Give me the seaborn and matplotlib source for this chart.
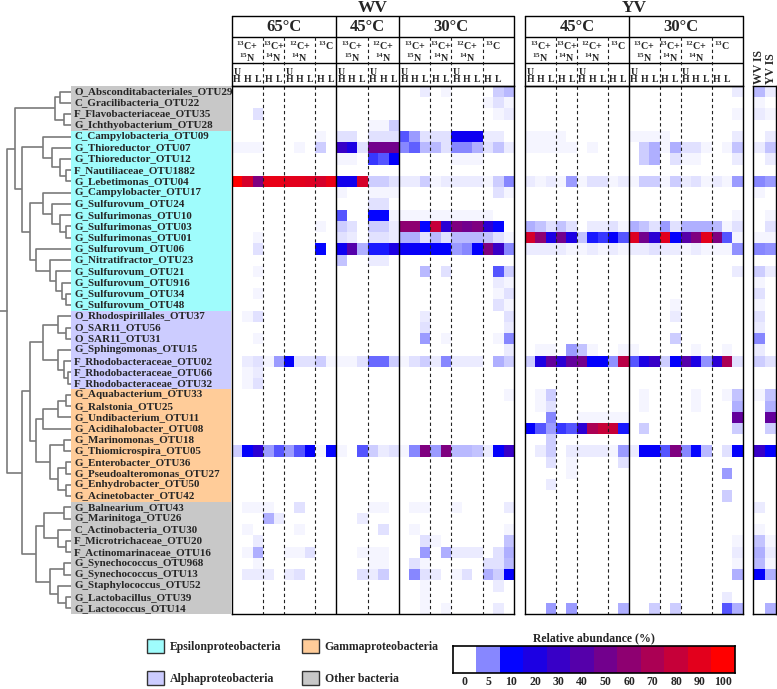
import numpy as np
import pandas as pd
import matplotlib
matplotlib.use('Agg')
import matplotlib.pyplot as plt
from matplotlib.colors import LinearSegmentedColormap
from matplotlib.patches import Patch
import seaborn as sns

sns.set_theme(style='white')
plt.rcParams['font.family'] = ['Liberation Serif', 'DejaVu Serif']
plt.rcParams['font.weight'] = 'bold'
plt.rcParams['mathtext.fontset'] = 'custom'
plt.rcParams['mathtext.rm'] = 'Liberation Serif:bold'
plt.rcParams['mathtext.it'] = 'Liberation Serif:bold'
plt.rcParams['mathtext.bf'] = 'Liberation Serif:bold'

# ---------------- data ----------------
otus = ['O_Absconditabacteriales_OTU29', 'C_Gracilibacteria_OTU22', 'F_Flavobacteriaceae_OTU35',
        'G_Ichthyobacterium_OTU28', 'C_Campylobacteria_OTU09', 'G_Thioreductor_OTU07',
        'G_Thioreductor_OTU12', 'F_Nautiliaceae_OTU1882', 'G_Lebetimonas_OTU04',
        'G_Campylobacter_OTU17', 'G_Sulfurovum_OTU24', 'G_Sulfurimonas_OTU10',
        'G_Sulfurimonas_OTU03', 'G_Sulfurimonas_OTU01', 'G_Sulfurovum_OTU06',
        'G_Nitratifractor_OTU23', 'G_Sulfurovum_OTU21', 'G_Sulfurovum_OTU916',
        'G_Sulfurovum_OTU34', 'G_Sulfurovum_OTU48', 'O_Rhodospirillales_OTU37',
        'O_SAR11_OTU56', 'O_SAR11_OTU31', 'G_Sphingomonas_OTU15',
        'F_Rhodobacteraceae_OTU02', 'F_Rhodobacteraceae_OTU66', 'F_Rhodobacteraceae_OTU32',
        'G_Aquabacterium_OTU33', 'G_Ralstonia_OTU25', 'G_Undibacterium_OTU11',
        'G_Acidihalobacter_OTU08', 'G_Marinomonas_OTU18', 'G_Thiomicrospira_OTU05',
        'G_Enterobacter_OTU36', 'G_Pseudoalteromonas_OTU27', 'G_Enhydrobacter_OTU50',
        'G_Acinetobacter_OTU42', 'G_Balnearium_OTU43', 'G_Marinitoga_OTU26',
        'C_Actinobacteria_OTU30', 'F_Microtrichaceae_OTU20', 'F_Actinomarinaceae_OTU16',
        'G_Synechococcus_OTU968', 'G_Synechococcus_OTU13', 'G_Staphylococcus_OTU52',
        'G_Lactobacillus_OTU39', 'G_Lactococcus_OTU14']
otu_groups = ['Other bacteria'] * 4 + ['Epsilonproteobacteria'] * 16 + \
             ['Alphaproteobacteria'] * 7 + ['Gammaproteobacteria'] * 10 + ['Other bacteria'] * 10
group_colors = {'Epsilonproteobacteria': '#9ffcfc', 'Gammaproteobacteria': '#ffcc99',
                'Alphaproteobacteria': '#ccccff', 'Other bacteria': '#c8c8c8'}
legend_order = ['Epsilonproteobacteria', 'Alphaproteobacteria', 'Gammaproteobacteria', 'Other bacteria']

treat_full = ['13C+15N', '13C+14N', '12C+14N', '13C']
treat_wv45 = ['13C+15N', '12C+14N']
fractions = {'13C+15N': ['UH', 'H', 'L'], '13C+14N': ['H', 'L'],
             '12C+14N': ['UH', 'H', 'L'], '13C': ['H', 'L']}
design = {'WV': [('65°C', treat_full), ('45°C', treat_wv45), ('30°C', treat_full)],
          'YV': [('45°C', treat_full), ('30°C', treat_full)]}
is_samples = ['WV IS', 'YV IS']
iso_text = {'13C+15N': r'$^{13}$C+' + '\n' + r'$^{15}$N',
            '13C+14N': r'$^{13}$C+' + '\n' + r'$^{14}$N',
            '12C+14N': r'$^{12}$C+' + '\n' + r'$^{14}$N',
            '13C': r'$^{13}$C'}

# relative abundance (%), column index -> value, zero elsewhere
# columns: 0-25 WV (65/45/30), 26-45 YV (45/30), 46 WV IS, 47 YV IS
nonzero_cells = [
    {18: 1, 20: 0.6, 25: 2, 46: 3, 47: 1},
    {24: 0.5, 25: 1.5, 46: 0.4},
    {2: 1.5, 25: 0.7, 46: 1, 47: 0.5},
    {12: 0.3, 13: 0.5, 14: 0.5, 15: 2, 46: 0.3},
    {0: 0.3, 1: 0.3, 2: 0.3, 3: 0.3, 4: 0.3, 5: 0.3, 6: 0.3, 7: 0.3, 8: 0.5, 9: 0.3, 10: 1.5, 11: 1.5,
     12: 0.3, 13: 1.2, 14: 1.2, 15: 1.2, 16: 7, 17: 4, 18: 1.5, 19: 1.5, 20: 1.5, 21: 15, 22: 15,
     23: 15, 24: 0.8, 25: 0.8, 26: 0.5, 27: 0.5, 28: 0.5, 29: 0.5, 32: 0.3, 36: 0.5, 37: 0.5,
     38: 0.5, 39: 0.5, 47: 1},
    {0: 0.4, 1: 0.4, 2: 0.5, 3: 0.3, 4: 0.3, 5: 0.3, 6: 0.4, 7: 0.3, 8: 2, 9: 0.3, 10: 30, 11: 20,
     12: 1.5, 13: 50, 14: 50, 15: 50, 16: 5, 17: 6.5, 18: 3, 19: 3, 20: 1.5, 21: 5, 22: 5, 23: 3.5,
     24: 1.5, 25: 2.5, 26: 0.7, 27: 0.5, 28: 0.5, 29: 0.5, 30: 0.5, 32: 0.5, 36: 0.3, 37: 2,
     38: 3.5, 39: 0.5, 40: 3.5, 41: 1.5, 42: 1.5, 43: 0.5, 45: 0.7, 46: 0.8, 47: 2.5},
    {10: 0.5, 11: 0.5, 13: 8, 14: 7, 15: 11, 16: 0.3, 17: 0.3, 21: 0.5, 22: 0.5, 23: 0.5, 37: 2,
     38: 3.5, 40: 1.5, 41: 0.5, 42: 0.5, 47: 1},
    {8: 0.3, 10: 0.3, 11: 0.3, 46: 0.3},
    {0: 100, 1: 85, 2: 55, 3: 92, 4: 92, 5: 90, 6: 90, 7: 88, 8: 85, 9: 92, 10: 17, 11: 17, 12: 85,
     13: 2, 14: 2, 15: 1.5, 16: 0.8, 17: 0.8, 18: 2, 19: 0.5, 20: 1, 21: 1, 22: 1, 23: 1, 24: 0.5,
     25: 2, 26: 1, 27: 0.5, 28: 0.8, 29: 0.5, 30: 4, 31: 0.5, 32: 1.5, 33: 1.5, 34: 0.5, 35: 1,
     36: 0.5, 37: 2, 38: 2, 39: 0.5, 40: 2, 41: 1, 42: 1.5, 43: 0.5, 44: 1, 45: 0.5, 46: 5, 47: 4},
    {10: 0.5, 13: 0.5, 14: 0.5, 15: 0.5, 25: 1.5, 46: 0.5},
    {13: 1.5, 14: 1.5, 46: 0.3},
    {10: 7, 13: 10, 14: 10, 15: 0.5, 16: 0.5, 17: 0.5, 18: 0.5, 19: 0.5, 20: 0.5, 21: 0.5, 22: 0.5,
     23: 0.5, 24: 0.5, 26: 0.3, 27: 0.3, 28: 0.3, 47: 0.5},
    {0: 0.3, 1: 0.3, 2: 0.3, 3: 0.3, 4: 0.3, 5: 0.3, 6: 0.3, 7: 0.3, 8: 0.5, 10: 2, 11: 1.5, 13: 2,
     14: 2, 15: 1, 16: 60, 17: 60, 18: 10, 19: 80, 20: 25, 21: 55, 22: 50, 23: 55, 24: 25, 25: 10,
     26: 3.5, 27: 2.5, 28: 1.5, 29: 2.5, 30: 1.5, 31: 0.3, 32: 1, 33: 1, 34: 1.5, 35: 0.5, 36: 3.5,
     37: 2.5, 38: 1.5, 39: 4, 40: 1.5, 41: 3.5, 42: 3.5, 43: 3.5, 44: 3, 45: 0.7, 47: 1.5},
    {0: 0.3, 1: 0.3, 2: 0.5, 3: 0.3, 4: 0.3, 5: 0.3, 6: 0.3, 7: 0.3, 8: 0.3, 9: 0.3, 10: 1.5, 11: 1,
     13: 1.5, 14: 1.5, 15: 1, 16: 3.5, 17: 3.5, 18: 1.5, 19: 3, 20: 1.5, 21: 3, 22: 3, 23: 3,
     24: 2.5, 25: 1.5, 26: 85, 27: 60, 28: 20, 29: 50, 30: 20, 31: 2.5, 32: 9, 33: 8, 34: 12,
     35: 7, 36: 88, 37: 50, 38: 25, 39: 90, 40: 11, 41: 40, 42: 55, 43: 90, 44: 55, 45: 7,
     46: 0.5, 47: 0.5},
    {0: 0.3, 1: 0.3, 2: 1.5, 3: 0.3, 4: 0.3, 5: 0.3, 6: 0.3, 7: 0.3, 8: 10, 9: 0.3, 10: 15, 11: 40,
     12: 3.5, 13: 9, 14: 9, 15: 20, 16: 14, 17: 13, 18: 12, 19: 11, 20: 11, 21: 4, 22: 5, 23: 11,
     24: 55, 25: 30, 26: 1, 27: 0.8, 28: 0.8, 29: 1, 30: 0.6, 31: 0.5, 32: 0.8, 33: 0.6, 34: 0.8,
     35: 0.6, 36: 0.8, 37: 0.8, 38: 1.5, 39: 1, 40: 0.8, 41: 0.6, 42: 0.8, 43: 0.6, 44: 0.5,
     45: 0.6, 46: 5, 47: 4.5},
    {10: 2.5, 13: 1, 14: 1, 46: 0.3, 47: 0.3},
    {2: 0.5, 18: 3, 20: 1.5, 25: 7, 46: 2, 47: 0.8},
    {25: 1, 38: 0.3, 46: 0.5},
    {2: 0.5, 25: 0.5, 38: 0.3, 40: 0.3, 46: 1.5, 47: 0.3},
    {25: 1.5, 40: 0.5, 46: 0.5},
    {1: 0.5, 2: 1.5, 18: 1, 40: 1, 46: 1.5},
    {18: 1.5, 38: 0.3, 46: 0.8},
    {2: 0.5, 18: 4, 20: 0.5, 25: 0.5, 40: 2, 46: 5},
    {2: 0.3, 18: 0.3, 26: 0.3, 27: 0.5, 28: 0.5, 30: 4, 31: 2.5, 32: 0.5, 35: 0.5, 36: 0.5,
     37: 0.3, 42: 0.5, 45: 0.5, 46: 1},
    {0: 0.3, 1: 0.8, 2: 1.5, 3: 0.5, 4: 4, 5: 11, 6: 1.5, 7: 1.5, 8: 2, 9: 0.5, 10: 0.5, 11: 0.5,
     12: 1.5, 13: 6, 14: 6, 15: 2, 16: 0.5, 17: 1.5, 18: 2, 19: 1, 20: 5, 21: 1, 22: 1, 23: 1,
     24: 0.3, 25: 3.5, 26: 2, 27: 20, 28: 45, 29: 25, 30: 45, 31: 50, 32: 11, 33: 11, 34: 4.5,
     35: 75, 36: 7, 37: 20, 38: 30, 39: 2, 40: 11, 41: 40, 42: 20, 43: 4.5, 44: 25, 45: 70,
     46: 2, 47: 1.5},
    {1: 0.5, 2: 1, 5: 0.3, 6: 0.3, 7: 0.3, 46: 0.3},
    {1: 0.5, 2: 1.5, 46: 0.3},
    {27: 0.5, 28: 2, 37: 0.5, 40: 0.3, 42: 0.5, 45: 0.5, 46: 0.5, 47: 2.5},
    {27: 0.5, 28: 1.5, 37: 0.5, 42: 0.5, 47: 3.5},
    {28: 5, 29: 0.3, 31: 0.5, 32: 0.5, 33: 0.5, 34: 0.5, 35: 0.5, 47: 45},
    {0: 0.3, 1: 0.3, 2: 0.3, 3: 0.3, 4: 0.3, 5: 0.3, 6: 0.3, 7: 0.3, 8: 0.3, 9: 0.3, 26: 11, 27: 7,
     28: 4, 29: 8, 30: 7, 31: 25, 32: 70, 33: 80, 34: 80, 35: 9, 36: 0.3, 37: 2, 38: 0.3, 40: 0.3,
     42: 0.3, 46: 0.3, 47: 2},
    {26: 0.3, 28: 2, 46: 0.3, 47: 0.3},
    {0: 2, 1: 11, 2: 25, 3: 4, 4: 7, 5: 4, 6: 7, 7: 11, 8: 0.5, 9: 10, 10: 0.5, 11: 0.3, 12: 7,
     13: 2, 14: 1, 15: 1.5, 16: 0.5, 17: 5, 18: 55, 19: 4, 20: 55, 21: 3, 22: 3, 23: 2.5, 24: 1,
     25: 11, 26: 0.3, 27: 0.8, 28: 2, 29: 0.3, 30: 1, 31: 0.8, 32: 0.8, 33: 0.8, 34: 0.5, 35: 4,
     36: 0.8, 37: 12, 38: 12, 39: 7, 40: 55, 41: 5, 42: 10, 43: 3, 44: 0.3, 45: 1.5, 46: 30,
     47: 11},
    {28: 1.5, 30: 0.5, 35: 1.5, 47: 0.3},
    {30: 0.5, 38: 0.3, 40: 0.3, 45: 4},
    {28: 1, 30: 0.3},
    {30: 0.3, 45: 2},
    {1: 0.5, 2: 0.5, 3: 0.5, 6: 1.5, 13: 0.5, 14: 0.5, 17: 0.5, 18: 0.5, 21: 0.5, 46: 1},
    {3: 3.5, 4: 1, 12: 1},
    {1: 0.5, 6: 0.5, 14: 1.5, 17: 0.5, 46: 0.5, 47: 0.3},
    {2: 1, 18: 1.5, 19: 0.5, 46: 2.5, 47: 0.5},
    {1: 0.5, 2: 3.5, 5: 0.7, 6: 0.7, 7: 1.5, 12: 0.5, 13: 0.5, 14: 0.5, 17: 0.3, 18: 4, 20: 3.5,
     21: 0.8, 22: 0.8, 23: 0.8, 25: 1.5, 46: 3.5, 47: 1},
    {2: 0.5, 13: 0.5, 14: 0.5, 17: 1.5, 18: 0.5, 24: 1.5, 25: 1.5, 46: 3, 47: 0.5},
    {1: 1, 2: 1, 3: 1, 5: 1, 6: 1.5, 9: 0.3, 12: 1.5, 13: 1, 14: 2, 17: 5, 18: 1.5, 19: 1, 21: 0.5,
     22: 1.5, 24: 3.5, 25: 2, 46: 11, 47: 3.5},
    {18: 0.5, 25: 1, 46: 0.3},
    {12: 0.3, 18: 0.5, 28: 0.3, 45: 0.8},
    {12: 0.3, 18: 0.5, 20: 0.5, 25: 0.8, 27: 0.3, 28: 4, 30: 4, 31: 0.3, 32: 0.3, 33: 0.3, 35: 3.5,
     38: 2, 40: 2, 42: 0.3, 43: 0.3, 45: 7, 47: 3.5},
]

# dendrogram: (left, right, merge height); leaves are row indices
tree = (
    (((0, 1, 12), (2, 3, 8), 17),
     ((4, (5, (6, (7, 8, 6), 12), 20), 29),
      ((9, (10, (11, (12, 13, 6), 12), 20), 29),
       (14, (15, (16, (17, (18, 19, 6), 10), 16), 22), 36), 42), 50), 57),
    (((((20, (21, 22, 6), 14), (23, (24, (25, 26, 4), 8), 14), 29),
       ((((27, 28, 6), 29, 14), 30, 29),
        ((31, 32, 8), ((33, 34, 6), (35, 36, 6), 14), 22), 36), 42),
      (((37, 38, 8), (39, (40, 41, 6), 14), 28),
       ((42, 43, 8), (44, (45, 46, 6), 14), 22), 36), 50)),
    65)

cbar_levels = [0, 5, 10, 20, 30, 40, 50, 60, 70, 80, 90, 100]

# ---------------- table ----------------
columns = []
for site, temps in design.items():
    for temp, treats in temps:
        for tr in treats:
            for fr in fractions[tr]:
                columns.append(f'{site} {temp} {tr} {fr}')
columns += is_samples
matrix = np.zeros((len(otus), len(columns)))
for r, cells in enumerate(nonzero_cells):
    for c, v in cells.items():
        matrix[r, c] = v
df = pd.DataFrame(matrix, index=otus, columns=columns)

cmap = LinearSegmentedColormap.from_list(
    'abund', [(0, 'white'), (0.05, '#8080ff'), (0.1, '#0000ff'), (1, '#ff0000')])

W, H = 777, 689
fig = plt.figure(figsize=(W / 100, H / 100), dpi=100)


def px_axes(x0, y0, x1, y1):
    return fig.add_axes([x0 / W, 1 - y1 / H, (x1 - x0) / W, (y1 - y0) / H])


def frame(ax, lw=1.0):
    for s in ax.spines.values():
        s.set_visible(True)
        s.set_color('black')
        s.set_linewidth(lw)


top_hm, bot_hm = 86, 614
nrow = len(otus)
dash = (0, (3, 2.5))

# ---------------- dendrogram ----------------
ax_d = px_axes(0, top_hm, 72, bot_hm)


def draw_node(node):
    if isinstance(node, int):
        return node + 0.5, 0
    left, right, h = node
    y1, h1 = draw_node(left)
    y2, h2 = draw_node(right)
    ax_d.plot([h1, h, h, h2], [y1, y1, y2, y2], color='#7a7a7a', lw=1.2, solid_capstyle='butt')
    return (y1 + y2) / 2, h


yr, hr = draw_node(tree)
ax_d.plot([hr, 72], [yr, yr], color='#7a7a7a', lw=1.2)
ax_d.set_xlim(72, 0)
ax_d.set_ylim(nrow, 0)
ax_d.axis('off')

# ---------------- row labels ----------------
ax_l = px_axes(71, top_hm, 230.5, bot_hm)
ax_l.barh(np.arange(nrow) + 0.5, 1, height=1.0, left=0,
          color=[group_colors[g] for g in otu_groups], edgecolor='none', linewidth=0)
for i, name in enumerate(otus):
    ax_l.text(0.02, i + 0.5, name, va='center', ha='left', fontsize=7.9, fontweight='bold')
ax_l.set_xlim(0, 1)
ax_l.set_ylim(nrow, 0)
ax_l.axis('off')

# ---------------- heatmaps + headers ----------------
panels = {'WV': (231.7, 514.0), 'YV': (525.0, 742.7)}
for site, (x0, x1) in panels.items():
    sub_cols = [c for c in columns if c.startswith(site + ' ')]
    n = len(sub_cols)
    ax = px_axes(x0, top_hm, x1, bot_hm)
    sns.heatmap(df[sub_cols], ax=ax, cmap=cmap, vmin=0, vmax=100, cbar=False,
                xticklabels=False, yticklabels=False)
    frame(ax)

    axh = px_axes(x0, 16, x1, top_hm)
    axh.set_xlim(0, n)
    axh.set_ylim(70, 0)
    axh.axis('off')
    axh.plot([0, n, n, 0, 0], [0, 0, 70, 70, 0], color='black', lw=1, clip_on=False)
    axh.hlines([21, 47], 0, n, color='black', lw=1)
    axh.text(n / 2, -8.5, site, ha='center', va='center', fontsize=12.5, fontweight='bold')

    pos = 0
    temps = design[site]
    for ti, (temp, treats) in enumerate(temps):
        t_start = pos
        for ki, tr in enumerate(treats):
            k_start = pos
            for fr in fractions[tr]:
                txt = 'U\nH' if fr == 'UH' else fr
                axh.text(pos + 0.5, 68.5, txt, ha='center', va='bottom', fontsize=7,
                         fontweight='bold', linespacing=0.85)
                pos += 1
            cx = (k_start + pos) / 2
            axh.text(cx, 23.5, iso_text[tr], ha='center', va='top', fontsize=7.2,
                     fontweight='bold', linespacing=0.95)
            if ki < len(treats) - 1:
                ax.vlines(pos, 0, nrow, colors='#222222', linestyles=dash, lw=0.8)
                axh.vlines(pos, 21, 70, colors='#222222', linestyles=dash, lw=0.8)
        axh.text((t_start + pos) / 2, 11, temp, ha='center', va='center', fontsize=12,
                 fontweight='bold')
        if ti < len(temps) - 1:
            ax.vlines(pos, 0, nrow, colors='black', lw=1)
            axh.vlines(pos, 0, 70, colors='black', lw=1)

# in-situ samples
ax_is = px_axes(753.3, top_hm, 776.3, bot_hm)
sns.heatmap(df[is_samples], ax=ax_is, cmap=cmap, vmin=0, vmax=100, cbar=False,
            xticklabels=False, yticklabels=False)
frame(ax_is)
axh = px_axes(753.3, 16, 776.3, top_hm)
axh.set_xlim(0, len(is_samples))
axh.set_ylim(70, 0)
axh.axis('off')
for i, name in enumerate(is_samples):
    axh.text(i + 0.5, 68, name, rotation=90, ha='center', va='bottom', fontsize=8.5,
             fontweight='bold')

# ---------------- legend ----------------
handles = [Patch(facecolor=group_colors[g], edgecolor='#333333', linewidth=1) for g in legend_order]
fig.legend(handles, legend_order, ncol=2, loc='upper left',
           bbox_to_anchor=(147 / W, 1 - 639 / H), frameon=False,
           prop={'size': 8.5, 'weight': 'bold'}, handlelength=1.4, handleheight=1.5,
           columnspacing=1.8, labelspacing=1.45, handletextpad=0.5, borderaxespad=0, borderpad=0)

# ---------------- colour key ----------------
ax_cb = px_axes(452.7, 645.7, 735, 673)
sns.heatmap(pd.DataFrame([cbar_levels]), ax=ax_cb, cmap=cmap, vmin=0, vmax=100, cbar=False,
            xticklabels=False, yticklabels=False)
ax_cb.set_xticks(np.arange(len(cbar_levels)) + 0.5)
ax_cb.set_xticklabels([str(v) for v in cbar_levels], fontsize=8.5, fontweight='bold')
ax_cb.tick_params(axis='x', length=0, pad=2.5)
ax_cb.set_title('Relative abundance (%)', fontsize=8.5, fontweight='bold', pad=3.5)
frame(ax_cb, 1.2)

fig.savefig('out.png', dpi=100)
